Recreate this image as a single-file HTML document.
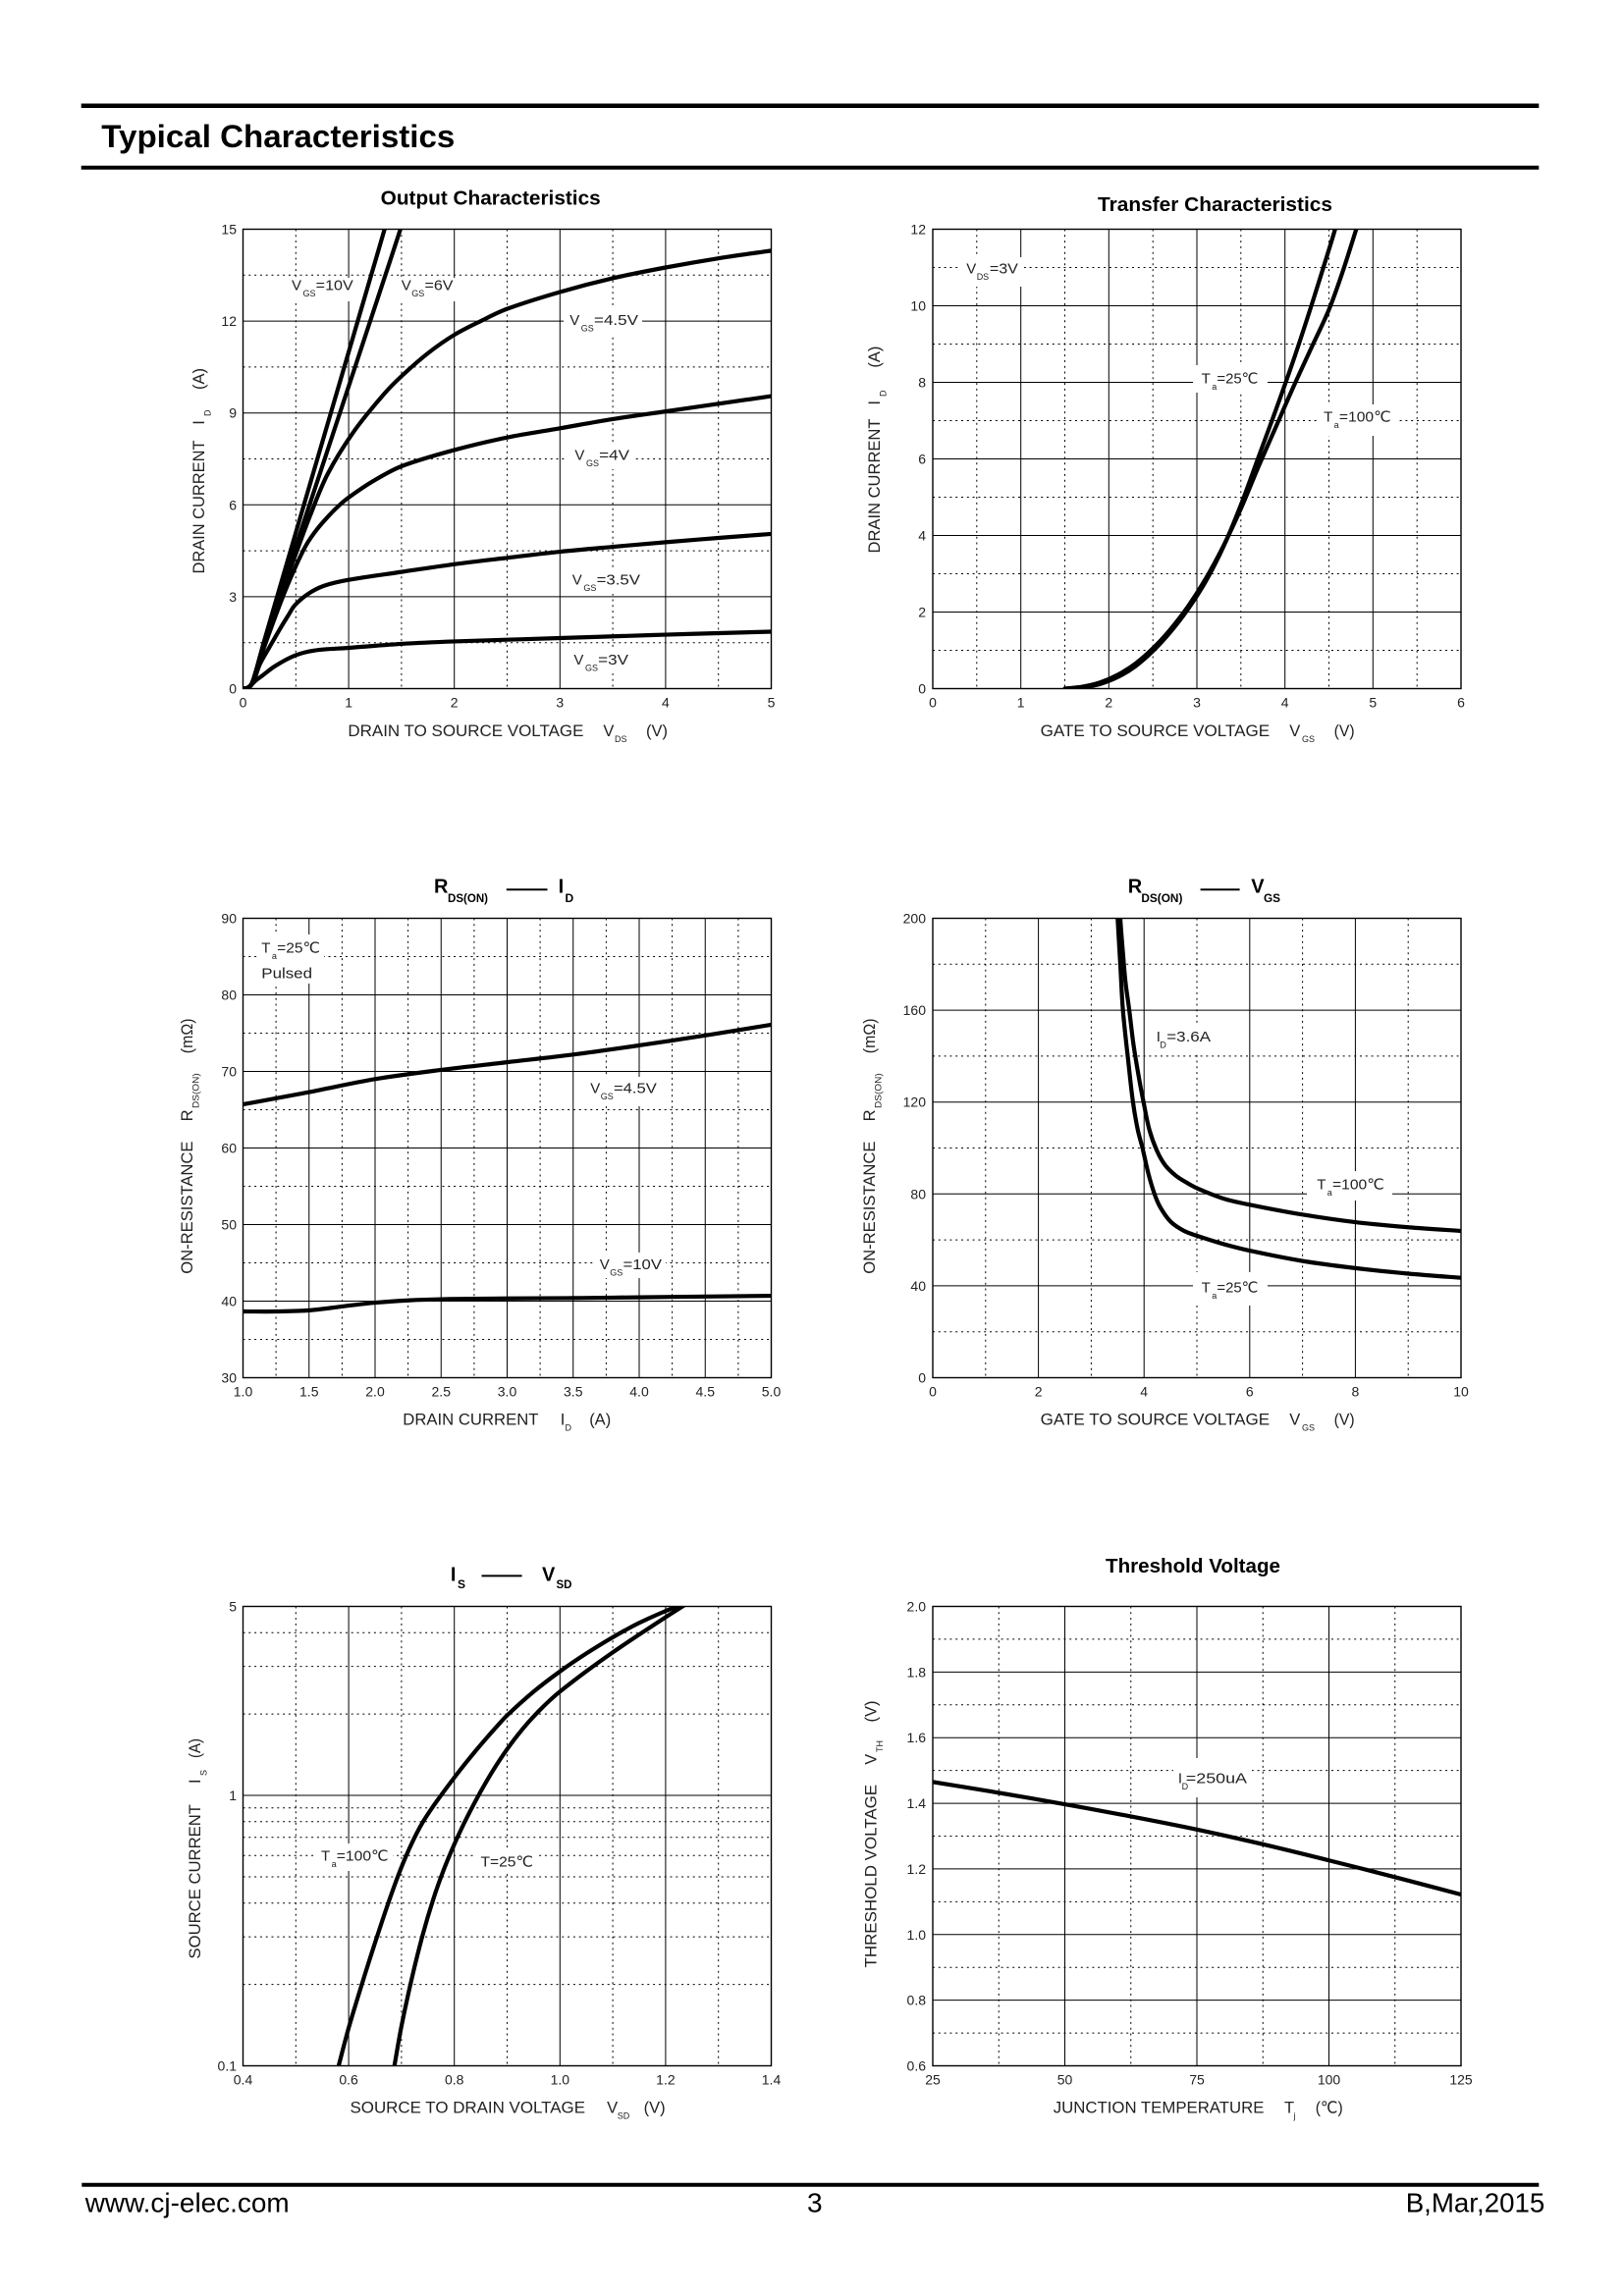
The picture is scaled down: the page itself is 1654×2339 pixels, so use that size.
<!DOCTYPE html>
<html><head><meta charset="utf-8"><style>
html,body{margin:0;padding:0;background:#fff;}
svg{display:block;}
text{font-family:"Liberation Sans","DejaVu Sans",sans-serif;fill:#000;}
.tk{font-size:14px;fill:#222}
.tkr{font-size:14px;fill:#222;text-anchor:end}
.tkm{font-size:14px;fill:#222;text-anchor:middle}
.ax{font-size:16.5px;fill:#222}
.sb{font-size:9px;fill:#222}
.lb{font-size:15px;fill:#222}
.ti{font-size:20px;font-weight:bold}
.ts{font-size:12px;font-weight:bold}
.mj{stroke:#000;stroke-width:1;fill:none}
.mn{stroke:#000;stroke-width:1;fill:none;stroke-dasharray:2 3.8}
.bx{stroke:#000;stroke-width:1.4;fill:none}
.cv{stroke:#000;stroke-width:4.2;fill:none;stroke-linejoin:round;stroke-linecap:round;vector-effect:non-scaling-stroke}
</style></head><body>
<svg width="1654" height="2339" viewBox="0 0 1654 2339" xmlns="http://www.w3.org/2000/svg">
<defs>
<clipPath id="c1"><rect x="247.5" y="233.5" width="538" height="468"/></clipPath>
<clipPath id="c2"><rect x="950" y="233.5" width="538" height="468"/></clipPath>
<clipPath id="c3"><rect x="247.5" y="935.5" width="538" height="468"/></clipPath>
<clipPath id="c4"><rect x="950" y="935.5" width="538" height="468"/></clipPath>
<clipPath id="c5"><rect x="247.5" y="1636.5" width="538" height="468"/></clipPath>
<clipPath id="c6"><rect x="950" y="1636.5" width="538" height="468"/></clipPath>
</defs>
<rect width="1654" height="2339" fill="#fff"/>

<!-- Header -->
<line x1="82.7" y1="107.7" x2="1567.3" y2="107.7" stroke="#000" stroke-width="4.5"/>
<line x1="82.7" y1="170.7" x2="1567.3" y2="170.7" stroke="#000" stroke-width="4"/>
<text x="103.3" y="150" style="font-size:32.6px;font-weight:bold" textLength="360" lengthAdjust="spacingAndGlyphs">Typical Characteristics</text>

<!-- ============ Chart 1: Output Characteristics ============ -->
<path class="mn" d="M301.3 233.5V701.5M408.9 233.5V701.5M516.5 233.5V701.5M624.1 233.5V701.5M731.7 233.5V701.5M247.5 654.7H785.5M247.5 561.1H785.5M247.5 467.5H785.5M247.5 373.9H785.5M247.5 280.3H785.5"/>
<path class="mj" d="M355.1 233.5V701.5M462.7 233.5V701.5M570.3 233.5V701.5M677.9 233.5V701.5M247.5 607.9H785.5M247.5 514.3H785.5M247.5 420.7H785.5M247.5 327.1H785.5"/>
<rect x="293" y="283" width="70" height="24" fill="#fff"/>
<rect x="405" y="283" width="60" height="24" fill="#fff"/>
<rect x="574" y="314" width="80" height="28" fill="#fff"/>
<rect x="578" y="452" width="68" height="26" fill="#fff"/>
<rect x="577" y="579" width="78" height="26" fill="#fff"/>
<rect x="578" y="660" width="67" height="26" fill="#fff"/>
<rect class="bx" x="247.5" y="233.5" width="538" height="468"/>
<g clip-path="url(#c1)"><g transform="translate(247.5,701.5) scale(107.6,-31.2)">
<path class="cv" d="M0 0L0.04 0.02 0.08 0.15 0.12 0.55 0.16 1.05 0.2 1.55 0.77 8.28 1.34 15 1.36 15.3"/>
<path class="cv" d="M0 0L0.04 0.02 0.08 0.15 0.12 0.55 0.16 1.03 0.2 1.5 0.845 8.25 1.49 15 1.51 15.3"/>
<path class="cv" d="M0 0L0.04 0.02 0.08 0.14 0.12 0.52 0.16 0.98 0.2 1.42 0.3 2.45 0.4 3.45 0.5 4.4 0.63 5.6 0.8 7.0 1.05 8.4 1.33 9.6 1.5 10.2 1.75 10.95 2.0 11.55 2.25 12.0 2.5 12.4 3.0 12.95 3.5 13.4 4.0 13.75 4.5 14.05 5.0 14.3"/>
<path class="cv" d="M0 0L0.04 0.02 0.08 0.13 0.12 0.5 0.16 0.95 0.2 1.35 0.3 2.3 0.4 3.2 0.5 4.0 0.6 4.7 0.7 5.2 0.8 5.6 0.9 5.95 1.0 6.24 1.234 6.78 1.5 7.26 2.0 7.79 2.5 8.2 3.0 8.5 3.5 8.8 4.0 9.05 4.5 9.3 5.0 9.55"/>
<path class="cv" d="M0 0L0.04 0.02 0.08 0.12 0.12 0.42 0.16 0.8 0.25 1.35 0.35 1.95 0.43 2.4 0.49 2.72 0.615 3.09 0.77 3.36 1.0 3.55 1.5 3.81 2.0 4.06 2.5 4.27 3.0 4.47 3.5 4.63 4.0 4.78 4.5 4.92 5.0 5.05"/>
<path class="cv" d="M0 0L0.05 0.03 0.119 0.26 0.181 0.42 0.305 0.74 0.491 1.08 0.677 1.245 1.0 1.33 1.5 1.46 2.0 1.54 3.0 1.65 4.0 1.76 5.0 1.86"/>
</g></g>
<text class="ti" x="387.7" y="208.5" textLength="224" lengthAdjust="spacingAndGlyphs">Output Characteristics</text>
<text class="tkr" x="241" y="238.5">15</text><text class="tkr" x="241" y="332.1">12</text><text class="tkr" x="241" y="425.7">9</text><text class="tkr" x="241" y="519.3">6</text><text class="tkr" x="241" y="612.9">3</text><text class="tkr" x="241" y="706.5">0</text>
<text class="tkm" x="247.5" y="720.5">0</text><text class="tkm" x="355.1" y="720.5">1</text><text class="tkm" x="462.7" y="720.5">2</text><text class="tkm" x="570.3" y="720.5">3</text><text class="tkm" x="677.9" y="720.5">4</text><text class="tkm" x="785.5" y="720.5">5</text>
<text class="ax" x="354.4" y="750" textLength="240" lengthAdjust="spacingAndGlyphs">DRAIN TO SOURCE VOLTAGE</text>
<text class="ax" x="614.4" y="750">V</text><text class="sb" x="626" y="756">DS</text><text class="ax" x="658" y="750" textLength="22" lengthAdjust="spacingAndGlyphs">(V)</text>
<text class="ax" transform="translate(208,584.5) rotate(-90)" textLength="136" lengthAdjust="spacingAndGlyphs">DRAIN CURRENT</text>
<text class="ax" transform="translate(208,432.7) rotate(-90)">I</text>
<text class="sb" transform="translate(214.5,424) rotate(-90)">D</text>
<text class="ax" transform="translate(208,397) rotate(-90)" textLength="22" lengthAdjust="spacingAndGlyphs">(A)</text>
<text class="lb" x="297" y="295.5">V</text><text class="sb" x="308.5" y="302">GS</text><text class="lb" x="321.7" y="295.5" textLength="38" lengthAdjust="spacingAndGlyphs">=10V</text>
<text class="lb" x="408.8" y="295.5">V</text><text class="sb" x="419.3" y="302">GS</text><text class="lb" x="432.5" y="295.5" textLength="29" lengthAdjust="spacingAndGlyphs">=6V</text>
<text class="lb" x="580.2" y="331">V</text><text class="sb" x="591.8" y="337.5">GS</text><text class="lb" x="605" y="331" textLength="45" lengthAdjust="spacingAndGlyphs">=4.5V</text>
<text class="lb" x="585.4" y="468.5">V</text><text class="sb" x="597" y="475">GS</text><text class="lb" x="610.2" y="468.5" textLength="30.8" lengthAdjust="spacingAndGlyphs">=4V</text>
<text class="lb" x="582.8" y="595.5">V</text><text class="sb" x="594.4" y="602">GS</text><text class="lb" x="607.6" y="595.5" textLength="44.4" lengthAdjust="spacingAndGlyphs">=3.5V</text>
<text class="lb" x="584.4" y="677">V</text><text class="sb" x="596" y="683.5">GS</text><text class="lb" x="609.2" y="677" textLength="30.8" lengthAdjust="spacingAndGlyphs">=3V</text>

<!-- ============ Chart 2: Transfer Characteristics ============ -->
<path class="mn" d="M994.8 233.5V701.5M1084.5 233.5V701.5M1174.2 233.5V701.5M1263.8 233.5V701.5M1353.5 233.5V701.5M1443.2 233.5V701.5M950 662.5H1488M950 584.5H1488M950 506.5H1488M950 428.5H1488M950 350.5H1488M950 272.5H1488"/>
<path class="mj" d="M1039.7 233.5V701.5M1129.3 233.5V701.5M1219 233.5V701.5M1308.7 233.5V701.5M1398.3 233.5V701.5M950 623.5H1488M950 545.5H1488M950 467.5H1488M950 389.5H1488M950 311.5H1488"/>
<rect x="979" y="262" width="64" height="30" fill="#fff"/>
<rect x="1215" y="372" width="76" height="28" fill="#fff"/>
<rect x="1342" y="412" width="80" height="32" fill="#fff"/>
<rect class="bx" x="950" y="233.5" width="538" height="468"/>
<g clip-path="url(#c2)"><g transform="translate(950,701.5) scale(89.667,-39)">
<path class="cv" d="M1.5 0L1.7 0.03 1.9 0.12 2.1 0.3 2.3 0.58 2.5 0.98 2.7 1.48 2.9 2.08 3.1 2.8 3.3 3.7 3.5 4.8 3.7 6.05 3.9 7.3 4.1 8.6 4.3 10.0 4.45 11.1 4.57 12 4.6 12.3"/>
<path class="cv" d="M1.5 0L1.7 0.05 1.9 0.16 2.1 0.36 2.3 0.65 2.5 1.05 2.7 1.55 2.9 2.15 3.1 2.87 3.3 3.72 3.5 4.7 3.7 5.8 3.9 6.85 4.1 7.9 4.3 8.9 4.5 9.9 4.65 10.85 4.81 12 4.85 12.3"/>
</g></g>
<text class="ti" x="1118" y="214.8" textLength="239" lengthAdjust="spacingAndGlyphs">Transfer Characteristics</text>
<text class="tkr" x="943" y="238.5">12</text><text class="tkr" x="943" y="316.5">10</text><text class="tkr" x="943" y="394.5">8</text><text class="tkr" x="943" y="472.5">6</text><text class="tkr" x="943" y="550.5">4</text><text class="tkr" x="943" y="628.5">2</text><text class="tkr" x="943" y="706.5">0</text>
<text class="tkm" x="950" y="720.5">0</text><text class="tkm" x="1039.7" y="720.5">1</text><text class="tkm" x="1129.3" y="720.5">2</text><text class="tkm" x="1219" y="720.5">3</text><text class="tkm" x="1308.7" y="720.5">4</text><text class="tkm" x="1398.3" y="720.5">5</text><text class="tkm" x="1488" y="720.5">6</text>
<text class="ax" x="1059.6" y="750" textLength="233.6" lengthAdjust="spacingAndGlyphs">GATE TO SOURCE VOLTAGE</text>
<text class="ax" x="1313.3" y="750">V</text><text class="sb" x="1326" y="756">GS</text><text class="ax" x="1358.6" y="750" textLength="21" lengthAdjust="spacingAndGlyphs">(V)</text>
<text class="ax" transform="translate(896,563.5) rotate(-90)" textLength="137" lengthAdjust="spacingAndGlyphs">DRAIN CURRENT</text>
<text class="ax" transform="translate(896,412.6) rotate(-90)">I</text>
<text class="sb" transform="translate(902.5,404) rotate(-90)">D</text>
<text class="ax" transform="translate(896,374.6) rotate(-90)" textLength="22" lengthAdjust="spacingAndGlyphs">(A)</text>
<text class="lb" x="984.2" y="278.5">V</text><text class="sb" x="994.7" y="285">DS</text><text class="lb" x="1007.9" y="278.5" textLength="29" lengthAdjust="spacingAndGlyphs">=3V</text>
<text class="lb" x="1223.6" y="390.5">T</text><text class="sb" x="1234.2" y="397">a</text><text class="lb" x="1239.4" y="390.5" textLength="42" lengthAdjust="spacingAndGlyphs">=25℃</text>
<text class="lb" x="1348.1" y="429.3">T</text><text class="sb" x="1358.6" y="435.8">a</text><text class="lb" x="1363.9" y="429.3" textLength="52.8" lengthAdjust="spacingAndGlyphs">=100℃</text>

<!-- ============ Chart 3: RDS(ON) - ID ============ -->
<path class="mn" d="M281.1 935.5V1403.5M348.4 935.5V1403.5M415.6 935.5V1403.5M482.9 935.5V1403.5M550.1 935.5V1403.5M617.4 935.5V1403.5M684.6 935.5V1403.5M751.9 935.5V1403.5M247.5 1364.5H785.5M247.5 1286.5H785.5M247.5 1208.5H785.5M247.5 1130.5H785.5M247.5 1052.5H785.5M247.5 974.5H785.5"/>
<path class="mj" d="M314.75 935.5V1403.5M382 935.5V1403.5M449.25 935.5V1403.5M516.5 935.5V1403.5M583.75 935.5V1403.5M651 935.5V1403.5M718.25 935.5V1403.5M247.5 1325.5H785.5M247.5 1247.5H785.5M247.5 1169.5H785.5M247.5 1091.5H785.5M247.5 1013.5H785.5"/>
<rect x="262" y="952" width="68" height="50" fill="#fff"/>
<rect x="596" y="1097" width="77" height="30" fill="#fff"/>
<rect x="605" y="1276" width="73" height="26" fill="#fff"/>
<rect class="bx" x="247.5" y="935.5" width="538" height="468"/>
<g clip-path="url(#c3)"><g transform="translate(113,1637.5) scale(134.5,-7.8)">
<path class="cv" d="M0.98 65.64L1 65.7 1.5 67.3 2 69 2.5 70.2 3 71.2 3.5 72.2 4 73.4 4.5 74.7 5 76.1 5.02 76.15"/>
<path class="cv" d="M0.98 38.65L1 38.65 1.25 38.65 1.5 38.8 1.75 39.3 2 39.8 2.25 40.1 2.5 40.25 3 40.35 3.5 40.4 4 40.5 4.5 40.6 5 40.7 5.02 40.7"/>
</g></g>
<text class="ti" x="442" y="909.5">R</text><text class="ts" x="456" y="919" textLength="41" lengthAdjust="spacingAndGlyphs">DS(ON)</text>
<line x1="515.8" y1="906.3" x2="557.5" y2="906.3" stroke="#000" stroke-width="2"/>
<text class="ti" x="568.6" y="909.5">I</text><text class="ts" x="575.5" y="919">D</text>
<text class="tkr" x="241" y="940.5">90</text><text class="tkr" x="241" y="1018.5">80</text><text class="tkr" x="241" y="1096.5">70</text><text class="tkr" x="241" y="1174.5">60</text><text class="tkr" x="241" y="1252.5">50</text><text class="tkr" x="241" y="1330.5">40</text><text class="tkr" x="241" y="1408.5">30</text>
<text class="tkm" x="247.5" y="1422.5">1.0</text><text class="tkm" x="314.75" y="1422.5">1.5</text><text class="tkm" x="382" y="1422.5">2.0</text><text class="tkm" x="449.25" y="1422.5">2.5</text><text class="tkm" x="516.5" y="1422.5">3.0</text><text class="tkm" x="583.75" y="1422.5">3.5</text><text class="tkm" x="651" y="1422.5">4.0</text><text class="tkm" x="718.25" y="1422.5">4.5</text><text class="tkm" x="785.5" y="1422.5">5.0</text>
<text class="ax" x="410.3" y="1451.5" textLength="138.2" lengthAdjust="spacingAndGlyphs">DRAIN CURRENT</text>
<text class="ax" x="570.7" y="1451.5">I</text><text class="sb" x="575.5" y="1457.5">D</text><text class="ax" x="600.2" y="1451.5" textLength="22" lengthAdjust="spacingAndGlyphs">(A)</text>
<text class="ax" transform="translate(196,1297.8) rotate(-90)" textLength="135.3" lengthAdjust="spacingAndGlyphs">ON-RESISTANCE</text>
<text class="ax" transform="translate(196,1142.4) rotate(-90)">R</text>
<text class="sb" transform="translate(202.5,1129) rotate(-90)" textLength="35.7" lengthAdjust="spacingAndGlyphs">DS(ON)</text>
<text class="ax" transform="translate(196,1073.2) rotate(-90)" textLength="35.7" lengthAdjust="spacingAndGlyphs">(mΩ)</text>
<text class="lb" x="266.3" y="970.7">T</text><text class="sb" x="276.9" y="977">a</text><text class="lb" x="282.2" y="970.7" textLength="43.8" lengthAdjust="spacingAndGlyphs">=25℃</text>
<text class="lb" x="266.3" y="996.5" textLength="51.7" lengthAdjust="spacingAndGlyphs">Pulsed</text>
<text class="lb" x="601.3" y="1113.5">V</text><text class="sb" x="611.8" y="1120">GS</text><text class="lb" x="625" y="1113.5" textLength="43.8" lengthAdjust="spacingAndGlyphs">=4.5V</text>
<text class="lb" x="610.8" y="1293">V</text><text class="sb" x="621.3" y="1299.5">GS</text><text class="lb" x="634.5" y="1293" textLength="39.5" lengthAdjust="spacingAndGlyphs">=10V</text>

<!-- ============ Chart 4: RDS(ON) - VGS ============ -->
<path class="mn" d="M1003.8 935.5V1403.5M1111.4 935.5V1403.5M1219 935.5V1403.5M1326.6 935.5V1403.5M1434.2 935.5V1403.5M950 1356.7H1488M950 1263.1H1488M950 1169.5H1488M950 1075.9H1488M950 982.3H1488"/>
<path class="mj" d="M1057.6 935.5V1403.5M1165.2 935.5V1403.5M1272.8 935.5V1403.5M1380.4 935.5V1403.5M950 1309.9H1488M950 1216.3H1488M950 1122.7H1488M950 1029.1H1488"/>
<rect x="1173" y="1044" width="64" height="28" fill="#fff"/>
<rect x="1331" y="1193" width="87" height="30" fill="#fff"/>
<rect x="1215" y="1296" width="76" height="34" fill="#fff"/>
<rect class="bx" x="950" y="935.5" width="538" height="468"/>
<g clip-path="url(#c4)"><g transform="translate(950,1403.5) scale(53.8,-2.34)">
<path class="cv" d="M3.545 206L3.55 200 3.6 185 3.65 172 3.72 160 3.8 145 3.9 131 3.99 120 4.1 108 4.24 99 4.4 92.5 4.6 88 4.8 85 5 82.5 5.5 78 6 75.3 7 71 8 67.7 9 65.5 10 63.9 10.1 63.8"/>
<path class="cv" d="M3.495 206L3.5 200 3.55 180 3.6 160 3.7 138 3.79 120 3.88 108 3.97 100 4.08 89 4.19 80.5 4.3 74.5 4.5 68 4.75 64 5 61.8 5.5 58.2 6 55.3 7 50.8 8 47.7 9 45.3 10 43.5 10.1 43.4"/>
</g></g>
<text class="ti" x="1148.7" y="909.5">R</text><text class="ts" x="1162.4" y="919" textLength="42" lengthAdjust="spacingAndGlyphs">DS(ON)</text>
<line x1="1222.6" y1="906.3" x2="1262.6" y2="906.3" stroke="#000" stroke-width="2"/>
<text class="ti" x="1274.3" y="909.5">V</text><text class="ts" x="1287" y="919" textLength="17" lengthAdjust="spacingAndGlyphs">GS</text>
<text class="tkr" x="943" y="940.5">200</text><text class="tkr" x="943" y="1034.1">160</text><text class="tkr" x="943" y="1127.7">120</text><text class="tkr" x="943" y="1221.3">80</text><text class="tkr" x="943" y="1314.9">40</text><text class="tkr" x="943" y="1408.5">0</text>
<text class="tkm" x="950" y="1422.5">0</text><text class="tkm" x="1057.6" y="1422.5">2</text><text class="tkm" x="1165.2" y="1422.5">4</text><text class="tkm" x="1272.8" y="1422.5">6</text><text class="tkm" x="1380.4" y="1422.5">8</text><text class="tkm" x="1488" y="1422.5">10</text>
<text class="ax" x="1059.6" y="1451.5" textLength="233.6" lengthAdjust="spacingAndGlyphs">GATE TO SOURCE VOLTAGE</text>
<text class="ax" x="1313.3" y="1451.5">V</text><text class="sb" x="1326" y="1457.5">GS</text><text class="ax" x="1358.6" y="1451.5" textLength="21" lengthAdjust="spacingAndGlyphs">(V)</text>
<text class="ax" transform="translate(891,1297.8) rotate(-90)" textLength="135.3" lengthAdjust="spacingAndGlyphs">ON-RESISTANCE</text>
<text class="ax" transform="translate(891,1142.4) rotate(-90)">R</text>
<text class="sb" transform="translate(897.5,1129) rotate(-90)" textLength="35.7" lengthAdjust="spacingAndGlyphs">DS(ON)</text>
<text class="ax" transform="translate(891,1073.2) rotate(-90)" textLength="35.7" lengthAdjust="spacingAndGlyphs">(mΩ)</text>
<text class="lb" x="1177.7" y="1061">I</text><text class="sb" x="1181.4" y="1067.5">D</text><text class="lb" x="1188.3" y="1061" textLength="44.7" lengthAdjust="spacingAndGlyphs">=3.6A</text>
<text class="lb" x="1341.2" y="1211.3">T</text><text class="sb" x="1351.8" y="1217.8">a</text><text class="lb" x="1357" y="1211.3" textLength="52.8" lengthAdjust="spacingAndGlyphs">=100℃</text>
<text class="lb" x="1223.6" y="1316.5">T</text><text class="sb" x="1234.2" y="1323">a</text><text class="lb" x="1239.4" y="1316.5" textLength="42" lengthAdjust="spacingAndGlyphs">=25℃</text>

<!-- ============ Chart 5: IS - VSD ============ -->
<path class="mn" d="M301.3 1636.5V2104.5M408.9 1636.5V2104.5M516.5 1636.5V2104.5M624.1 1636.5V2104.5M731.7 1636.5V2104.5M247.5 2021.6H785.5M247.5 1973.1H785.5M247.5 1938.7H785.5M247.5 1912H785.5M247.5 1890.2H785.5M247.5 1871.7H785.5M247.5 1855.8H785.5M247.5 1841.7H785.5M247.5 1746.1H785.5M247.5 1697.6H785.5M247.5 1663.2H785.5"/>
<path class="mj" d="M355.1 1636.5V2104.5M462.7 1636.5V2104.5M570.3 1636.5V2104.5M677.9 1636.5V2104.5M247.5 1829H785.5"/>
<rect x="322" y="1878" width="78" height="28" fill="#fff"/>
<rect x="485" y="1885" width="62" height="24" fill="#fff"/>
<rect class="bx" x="247.5" y="1636.5" width="538" height="468"/>
<g clip-path="url(#c5)"><g transform="translate(32.3,1829.04) scale(538,-275.46)">
<path class="cv" d="M0.575 -1.045L0.581 -1 0.60 -0.86 0.62 -0.73 0.64 -0.605 0.66 -0.485 0.68 -0.37 0.70 -0.265 0.72 -0.175 0.74 -0.1 0.76 -0.04 0.78 0.014 0.80 0.066 0.82 0.116 0.84 0.164 0.86 0.21 0.88 0.254 0.90 0.296 0.95 0.3835 1.0 0.4585 1.05 0.525 1.1 0.585 1.15 0.638 1.2 0.682 1.2225 0.699 1.232 0.706"/>
<path class="cv" d="M0.682 -1.05L0.6866 -1 0.70 -0.853 0.72 -0.673 0.74 -0.517 0.76 -0.385 0.78 -0.275 0.80 -0.181 0.82 -0.097 0.84 -0.021 0.86 0.049 0.88 0.113 0.90 0.171 0.92 0.223 0.94 0.27 0.96 0.312 0.98 0.35 1.0 0.384 1.05 0.459 1.1 0.529 1.15 0.595 1.2 0.659 1.232 0.699 1.24 0.709"/>
</g></g>
<text class="ti" x="458.9" y="1610.3">I</text><text class="ts" x="466" y="1618">S</text>
<line x1="490.5" y1="1605.4" x2="531.6" y2="1605.4" stroke="#000" stroke-width="2"/>
<text class="ti" x="552" y="1610.3">V</text><text class="ts" x="566.5" y="1618" textLength="16" lengthAdjust="spacingAndGlyphs">SD</text>
<text class="tkr" x="241" y="1641.5">5</text><text class="tkr" x="241" y="1834">1</text><text class="tkr" x="241" y="2109.5">0.1</text>
<text class="tkm" x="247.5" y="2123.5">0.4</text><text class="tkm" x="355.1" y="2123.5">0.6</text><text class="tkm" x="462.7" y="2123.5">0.8</text><text class="tkm" x="570.3" y="2123.5">1.0</text><text class="tkm" x="677.9" y="2123.5">1.2</text><text class="tkm" x="785.5" y="2123.5">1.4</text>
<text class="ax" x="356.5" y="2152.4" textLength="239.5" lengthAdjust="spacingAndGlyphs">SOURCE TO DRAIN VOLTAGE</text>
<text class="ax" x="618.1" y="2152.4">V</text><text class="sb" x="628.7" y="2158.5">SD</text><text class="ax" x="655.6" y="2152.4" textLength="22" lengthAdjust="spacingAndGlyphs">(V)</text>
<text class="ax" transform="translate(204,1995.5) rotate(-90)" textLength="157.5" lengthAdjust="spacingAndGlyphs">SOURCE CURRENT</text>
<text class="ax" transform="translate(204,1817) rotate(-90)">I</text>
<text class="sb" transform="translate(210.5,1809) rotate(-90)">S</text>
<text class="ax" transform="translate(204,1791) rotate(-90)" textLength="20" lengthAdjust="spacingAndGlyphs">(A)</text>
<text class="lb" x="327" y="1895.5">T</text><text class="sb" x="337.6" y="1902">a</text><text class="lb" x="342.8" y="1895.5" textLength="52.8" lengthAdjust="spacingAndGlyphs">=100℃</text>
<text class="lb" x="489.5" y="1901.5" textLength="53.5" lengthAdjust="spacingAndGlyphs">T=25℃</text>

<!-- ============ Chart 6: Threshold Voltage ============ -->
<path class="mn" d="M1017.25 1636.5V2104.5M1151.75 1636.5V2104.5M1286.25 1636.5V2104.5M1420.75 1636.5V2104.5M950 2071.1H1488M950 2004.2H1488M950 1937.4H1488M950 1870.5H1488M950 1803.6H1488M950 1736.8H1488M950 1669.9H1488"/>
<path class="mj" d="M1084.5 1636.5V2104.5M1219 1636.5V2104.5M1353.5 1636.5V2104.5M950 2037.6H1488M950 1970.8H1488M950 1903.9H1488M950 1837.1H1488M950 1770.2H1488M950 1703.4H1488"/>
<rect x="1195" y="1791" width="80" height="40" fill="#fff"/>
<rect class="bx" x="950" y="1636.5" width="538" height="468"/>
<g clip-path="url(#c6)"><g transform="translate(815.5,2305.07) scale(5.38,-334.29)">
<path class="cv" d="M24 1.468L25 1.465 37.5 1.432 50 1.397 62.5 1.36 75 1.32 87.5 1.275 100 1.226 112.5 1.175 125 1.122 126 1.118"/>
</g></g>
<text class="ti" x="1126" y="1602" textLength="178" lengthAdjust="spacingAndGlyphs">Threshold Voltage</text>
<text class="tkr" x="943" y="1641.5">2.0</text><text class="tkr" x="943" y="1708.4">1.8</text><text class="tkr" x="943" y="1775.2">1.6</text><text class="tkr" x="943" y="1842.1">1.4</text><text class="tkr" x="943" y="1908.9">1.2</text><text class="tkr" x="943" y="1975.8">1.0</text><text class="tkr" x="943" y="2042.6">0.8</text><text class="tkr" x="943" y="2109.5">0.6</text>
<text class="tkm" x="950" y="2123.5">25</text><text class="tkm" x="1084.5" y="2123.5">50</text><text class="tkm" x="1219" y="2123.5">75</text><text class="tkm" x="1353.5" y="2123.5">100</text><text class="tkm" x="1488" y="2123.5">125</text>
<text class="ax" x="1072.8" y="2152.4" textLength="214.6" lengthAdjust="spacingAndGlyphs">JUNCTION TEMPERATURE</text>
<text class="ax" x="1308" y="2152.4">T</text><text class="sb" x="1317.5" y="2158.5">j</text><text class="ax" x="1339.7" y="2152.4" textLength="28" lengthAdjust="spacingAndGlyphs">(℃)</text>
<text class="ax" transform="translate(892.6,2004.5) rotate(-90)" textLength="186.6" lengthAdjust="spacingAndGlyphs">THRESHOLD VOLTAGE</text>
<text class="ax" transform="translate(892.6,1797.8) rotate(-90)">V</text>
<text class="sb" transform="translate(899,1785) rotate(-90)">TH</text>
<text class="ax" transform="translate(892.6,1754.5) rotate(-90)" textLength="22" lengthAdjust="spacingAndGlyphs">(V)</text>
<text class="lb" x="1199.9" y="1816.5">I</text><text class="sb" x="1203.6" y="1823">D</text><text class="lb" x="1207.8" y="1816.5" textLength="62.2" lengthAdjust="spacingAndGlyphs">=250uA</text>

<!-- Footer -->
<line x1="83.3" y1="2225.7" x2="1567.3" y2="2225.7" stroke="#000" stroke-width="4"/>
<text x="86.7" y="2253.3" style="font-size:28px" textLength="208" lengthAdjust="spacingAndGlyphs">www.cj-elec.com</text>
<text x="822" y="2253.3" style="font-size:28px">3</text>
<text x="1431.7" y="2253.3" style="font-size:28px" textLength="141.6" lengthAdjust="spacingAndGlyphs">B,Mar,2015</text>
</svg>
<script>
(function(){
var paths=document.querySelectorAll('path.cv');
for(var k=0;k<paths.length;k++){
 var p=paths[k];
 var n=p.getAttribute('d').match(/-?[\d.]+/g);
 if(!n)continue;
 n=n.map(Number);
 var g=p.parentNode,a=1,dd=1;
 try{var m=g.transform.baseVal.consolidate();if(m){a=m.matrix.a;dd=m.matrix.d;}}catch(e){}
 var P=[];for(var i=0;i+1<n.length;i+=2)P.push([n[i]*a,n[i+1]*dd]);
 if(P.length<3)continue;
 var T=[];
 for(var i=0;i<P.length;i++){
  var A=P[i-1]||P[i],B=P[i+1]||P[i];
  var tx=B[0]-A[0],ty=B[1]-A[1],l=Math.sqrt(tx*tx+ty*ty)||1;
  T.push([tx/l,ty/l]);
 }
 var d='M'+(P[0][0]/a)+' '+(P[0][1]/dd);
 for(var i=0;i<P.length-1;i++){
  var p1=P[i],p2=P[i+1];
  var L=Math.sqrt((p2[0]-p1[0])*(p2[0]-p1[0])+(p2[1]-p1[1])*(p2[1]-p1[1]))/3;
  var c1x=p1[0]+T[i][0]*L,c1y=p1[1]+T[i][1]*L;
  var c2x=p2[0]-T[i+1][0]*L,c2y=p2[1]-T[i+1][1]*L;
  d+='C'+(c1x/a)+' '+(c1y/dd)+' '+(c2x/a)+' '+(c2y/dd)+' '+(p2[0]/a)+' '+(p2[1]/dd);
 }
 p.setAttribute('d',d);
}
})();
</script>
</body></html>
